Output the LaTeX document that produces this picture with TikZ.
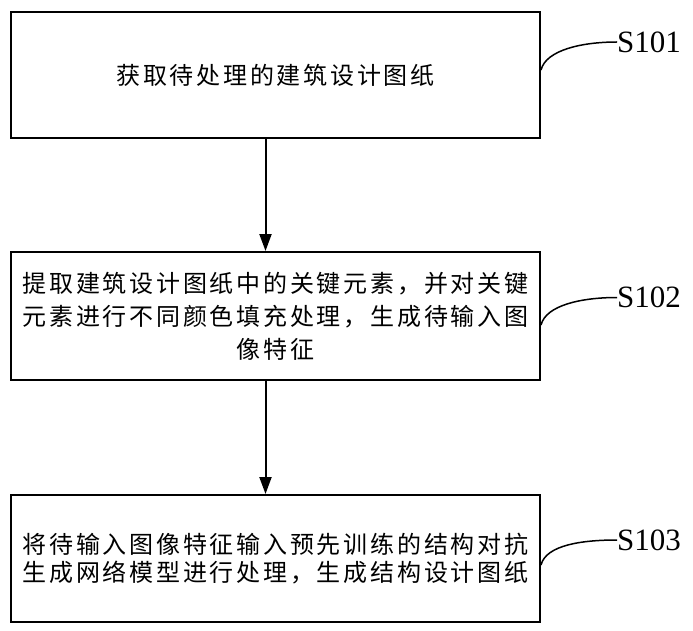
\documentclass[tikz,border=0pt]{standalone}
\usepackage{fontspec}
\setmainfont{Liberation Serif}
\newfontfamily\cjk[LetterSpace=11.5]{Noto Sans CJK SC}
\usetikzlibrary{arrows.meta}
\tikzset{
  stepbox/.style={draw, line width=2pt, minimum width=529pt, inner sep=0pt, align=center, text=black},
  flow/.style={line width=2pt, -{Triangle[length=17pt,width=12pt]}},
  leader/.style={line width=1.5pt},
  steplabel/.style={anchor=west, inner sep=0pt, font=\fontsize{31pt}{31pt}\selectfont}
}
\begin{document}
\begin{tikzpicture}[x=1pt,y=-1pt]
\useasboundingbox (0,0) rectangle (693,631);
\node[stepbox, minimum height=126pt, font=\cjk\fontsize{24pt}{33pt}\selectfont] (b1) at (275.5,75) {获取待处理的建筑设计图纸};
\node[stepbox, minimum height=128pt, font=\cjk\fontsize{24pt}{33pt}\selectfont] (b2) at (275.5,316) {提取建筑设计图纸中的关键元素，并对关键\\元素进行不同颜色填充处理，生成待输入图\\像特征};
\node[stepbox, minimum height=127pt, font=\cjk\fontsize{24pt}{28.5pt}\selectfont] (b3) at (275.5,558.5) {将待输入图像特征输入预先训练的结构对抗\\生成网络模型进行处理，生成结构设计图纸};
\draw[flow] ([xshift=-10pt]b1.south) -- ([xshift=-10pt]b2.north);
\draw[flow] ([xshift=-10pt]b2.south) -- ([xshift=-10pt]b3.north);
\node[steplabel] (l1) at (617,42) {S101};
\node[steplabel] (l2) at (617,297.5) {S102};
\node[steplabel] (l3) at (617,540) {S103};
\draw[leader] ([yshift=5pt]b1.east) .. controls +(5,-20) and +(-35,0) .. (l1.west);
\draw[leader] ([yshift=-9pt]b2.east) .. controls +(5,-20) and +(-35,0) .. (l2.west);
\draw[leader] ([yshift=-6.5pt]b3.east) .. controls +(5,-20) and +(-35,0) .. (l3.west);
\end{tikzpicture}
\end{document}
